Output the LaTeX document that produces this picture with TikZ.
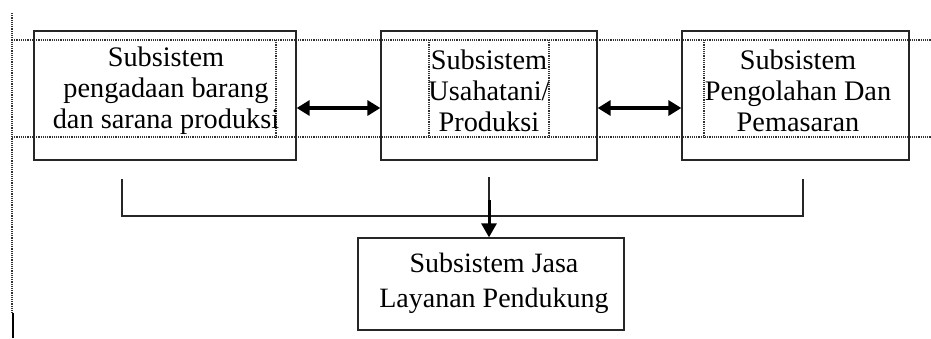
\documentclass[tikz,border=0pt]{standalone}
\usepackage{fontspec}
\setmainfont{Liberation Serif}
\usetikzlibrary{arrows.meta,positioning}

\begin{document}
\begin{tikzpicture}[x=1pt,y=-1pt,
  subbox/.style={draw=black!85, line width=1.3pt, minimum width=#1, minimum height=129pt, inner sep=0pt},
  subtext/.style={align=center, inner sep=0pt, font=\fontsize{28.3}{31}\selectfont},
  tabline/.style={black!80, line width=1.2pt, densely dotted},
  link/.style={black!85, line width=1.3pt},
  twoway/.style={line width=3.5pt, {Triangle[length=13pt,width=15pt]}-{Triangle[length=13pt,width=15pt]}},
  oneway/.style={line width=3pt, -{Triangle[length=14pt,width=15pt]}}]

\useasboundingbox (0,0) rectangle (931,338);

% TABLE GRID
  \draw[tabline] (12,13) -- (12,313);
  \draw[tabline] (12,40) -- (931,40);
  \draw[tabline] (12,137) -- (931,137);
  \foreach \x in {276,429,549,704}
      \draw[tabline] (\x,40) -- (\x,137);
  \draw[black, line width=2pt] (13,313) -- (13,338);

% SUBSYSTEM BOXES
  \node[subbox=262pt] (sarana) at (165,95.5) {};
  \node[subbox=216pt] (usahatani) at (489,95.5) {};
  \node[subbox=227pt] (olah) at (795.5,95.5) {};
  \node[subbox=266pt, minimum height=92pt] (jasa) at (491,284) {};

% TEXTS
  \node[subtext] (sarana-txt) at (166,91) {Subsistem\\pengadaan barang\\dan sarana produksi};
  \node[subtext] (usahatani-txt) at (489,91) {Subsistem\\Usahatani/\\Produksi};
  \node[subtext] (olah-txt) at (798,91) {Subsistem\\Pengolahan Dan\\Pemasaran};
  \node[subtext, font=\fontsize{28}{35}\selectfont] (jasa-txt) at (494,283) {Subsistem Jasa\\Layanan Pendukung};

% TWO-WAY ARROWS
  \draw[twoway] ([yshift=-12.5pt]sarana.east) -- ([yshift=-12.5pt]usahatani.west);
  \draw[twoway] ([yshift=-12.5pt]usahatani.east) -- ([yshift=-12.5pt]olah.west);

% SUPPORT LINKS
  \coordinate (stubL) at (122,179);
  \coordinate (stubR) at (803,179);
  \coordinate (stubM) at (489,177);
  \coordinate (bus) at (489,216);
  \coordinate (drop) at (489,200);
  \draw[link] (stubL) |- (bus) -| (stubR);
  \draw[link] (stubM) -- (bus);
  \draw[oneway] (drop) -- (drop |- jasa.north);
\end{tikzpicture}
\end{document}
